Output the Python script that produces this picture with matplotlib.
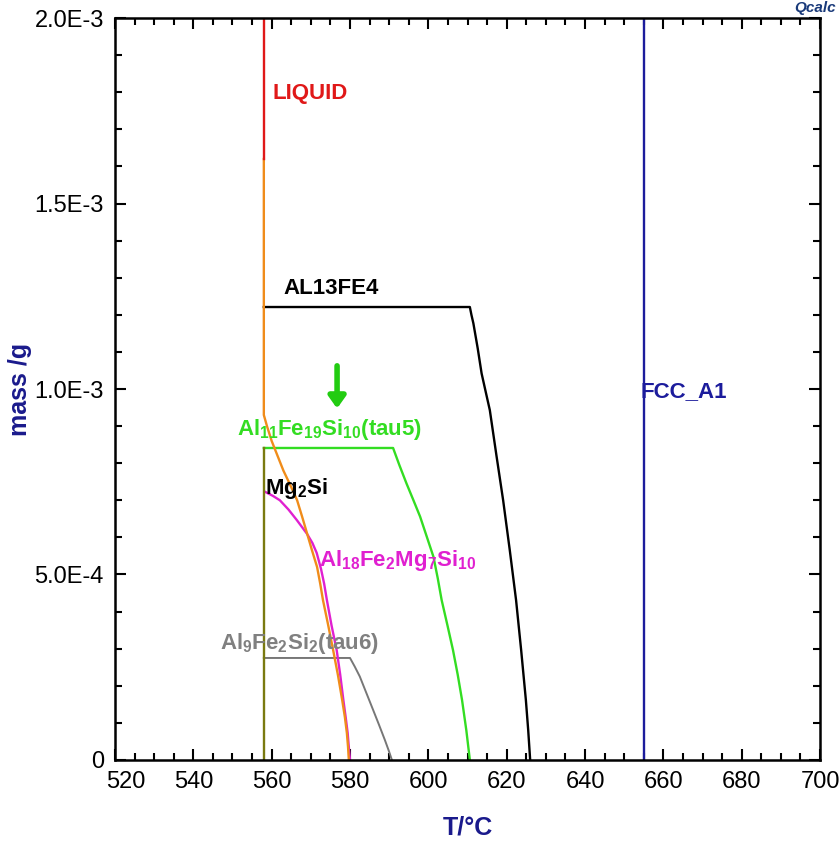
import numpy as np
import matplotlib.pyplot as plt
from matplotlib.ticker import MultipleLocator, FixedLocator, FuncFormatter
from matplotlib.transforms import ScaledTranslation

plt.rcParams['font.family'] = ['Liberation Sans', 'DejaVu Sans']
plt.rcParams['mathtext.fontset'] = 'custom'
plt.rcParams['mathtext.rm'] = 'Liberation Sans'
plt.rcParams['mathtext.bf'] = 'Liberation Sans:bold'

# Eutectic temperature and phase curves (T in degC, mass in g)
t_eut = 558.0

liquid_T = [t_eut, t_eut]
liquid_m = [2.0e-3, 1.62e-3]

orange_T = [558.0, 558.0, 558.8, 560.0, 561.5, 563.0, 564.8, 566.5, 567.8, 569.0, 570.3, 571.6,
            572.4, 573.1, 574.4, 575.7, 576.9, 578.0, 578.7, 579.2, 579.5, 579.7]
orange_m = [1.62e-3, 9.3e-4, 9.0e-4, 8.6e-4, 8.2e-4, 7.8e-4, 7.4e-4, 7.0e-4, 6.55e-4, 6.12e-4, 5.65e-4, 5.2e-4,
            4.75e-4, 4.31e-4, 3.65e-4, 2.96e-4, 2.3e-4, 1.62e-4, 1.15e-4, 7.3e-5, 3.5e-5, 0.0]

olive_T = [t_eut, t_eut]
olive_m = [0.0, 8.41e-4]

tau5_T = [558.0, 591.0, 592.6, 594.4, 596.2, 597.9, 599.6, 601.3, 602.4, 603.4, 604.9, 606.3,
          607.5, 608.6, 609.7, 610.6]
tau5_m = [8.41e-4, 8.41e-4, 7.95e-4, 7.46e-4, 7.0e-4, 6.56e-4, 6.02e-4, 5.48e-4, 4.9e-4, 4.31e-4, 3.62e-4, 2.96e-4,
          2.3e-4, 1.62e-4, 8.0e-5, 0.0]

al13fe4_T = [558.0, 610.6, 611.0, 611.5, 612.6, 613.6, 614.7, 615.7, 617.4, 619.1, 620.8, 622.4,
             623.7, 624.9, 625.5, 626.0]
al13fe4_m = [1.221e-3, 1.221e-3, 1.2e-3, 1.177e-3, 1.11e-3, 1.042e-3, 9.9e-4, 9.43e-4, 8.2e-4, 7.0e-4, 5.65e-4, 4.31e-4,
             2.96e-4, 1.62e-4, 8.0e-5, 0.0]

mg_T = [558.3, 560.3, 562.1, 564.3, 566.4, 569.0, 570.4, 571.5, 572.6, 573.4, 574.1, 575.3,
        576.6, 577.5, 578.3, 578.9, 579.4, 579.7, 580.0]
mg_m = [7.23e-4, 7.12e-4, 7.0e-4, 6.75e-4, 6.47e-4, 6.1e-4, 5.85e-4, 5.58e-4, 5.15e-4, 4.75e-4, 4.31e-4, 3.62e-4,
        2.96e-4, 2.3e-4, 1.62e-4, 1.15e-4, 7.3e-5, 3.5e-5, 0.0]

tau6_T = [558.0, 580.0, 581.2, 582.5, 584.2, 585.9, 587.4, 588.9, 589.9, 590.7]
tau6_m = [2.75e-4, 2.75e-4, 2.52e-4, 2.25e-4, 1.8e-4, 1.35e-4, 9.5e-5, 5.4e-5, 2.5e-5, 0.0]

fcc_T = [655.0, 655.0]
fcc_m = [0.0, 2.0e-3]

navy = '#1a1a8c'

fig = plt.figure(figsize=(8.4, 8.42), dpi=100)
ax = fig.add_axes([0.1369, 0.0974, 0.8393, 0.8812])

ax.plot(fcc_T, fcc_m, color='#1c1c9c', lw=1.7)
ax.plot(al13fe4_T, al13fe4_m, color='black', lw=1.7)
ax.plot(tau5_T, tau5_m, color='#33dd22', lw=1.7)
ax.plot(tau6_T, tau6_m, color='#777777', lw=1.4)
ax.plot(mg_T, mg_m, color='#e020d0', lw=1.7)
ax.plot(orange_T, orange_m, color='#f08c1a', lw=1.7)
ax.plot(olive_T, olive_m, color='#7a7a10', lw=1.7)
ax.plot(liquid_T, liquid_m, color='#e01818', lw=1.7)

ax.set_xlim(520, 700)
ax.set_ylim(0, 2.0e-3)

ax.xaxis.set_major_locator(MultipleLocator(20))
ax.xaxis.set_minor_locator(MultipleLocator(5))
ax.yaxis.set_major_locator(FixedLocator([0, 5e-4, 1e-3, 1.5e-3, 2e-3]))
ax.yaxis.set_minor_locator(MultipleLocator(1e-4))
ytick_labels = {0: '0', 5e-4: '5.0E-4', 1e-3: '1.0E-3', 1.5e-3: '1.5E-3', 2e-3: '2.0E-3'}
ax.yaxis.set_major_formatter(FuncFormatter(
    lambda v, p: min(ytick_labels.items(), key=lambda kv: abs(kv[0] - v))[1]))

ax.tick_params(which='both', direction='in', top=True, right=True, width=1.5, labelsize=17)
ax.tick_params(which='major', length=8, pad=8)
ax.tick_params(which='minor', length=5)
for s in ax.spines.values():
    s.set_linewidth(1.8)
# first x label is nudged right, off the y label "0"
fig.canvas.draw()
for lbl in ax.get_xticklabels():
    if lbl.get_text() == '520':
        lbl.set_transform(lbl.get_transform() + ScaledTranslation(0.11, 0, fig.dpi_scale_trans))

ax.set_xlabel('T/°C', color=navy, fontsize=18, fontweight='bold', labelpad=16)
ax.set_ylabel('mass /g', color=navy, fontsize=18, fontweight='bold', labelpad=2)

fs = 16
ax.text(560.3, 1.797e-3, 'LIQUID', color='#e01818', fontsize=fs, fontweight='bold', va='center')
ax.text(562.9, 1.272e-3, 'AL13FE4', color='black', fontsize=fs, fontweight='bold', va='center')
ax.text(654.2, 9.92e-4, 'FCC_A1', color='#1c1c9c', fontsize=fs, fontweight='bold', va='center')
ax.text(551.1, 8.9e-4, r'Al$_{\mathbf{11}}$Fe$_{\mathbf{19}}$Si$_{\mathbf{10}}$(tau5)', color='#33dd22',
        fontsize=fs, fontweight='bold', va='center')
ax.text(558.3, 7.33e-4, r'Mg$_{\mathbf{2}}$Si', color='black', fontsize=fs, fontweight='bold', va='center')
ax.text(572.1, 5.39e-4, r'Al$_{\mathbf{18}}$Fe$_{\mathbf{2}}$Mg$_{\mathbf{7}}$Si$_{\mathbf{10}}$', color='#e020d0',
        fontsize=fs, fontweight='bold', va='center')
ax.text(546.8, 3.15e-4, r'Al$_{\mathbf{9}}$Fe$_{\mathbf{2}}$Si$_{\mathbf{2}}$(tau6)', color='#808080',
        fontsize=fs, fontweight='bold', va='center')

ax.annotate('', xy=(576.7, 9.4e-4), xytext=(576.7, 1.07e-3),
            arrowprops=dict(arrowstyle='-|>,head_width=0.5,head_length=0.7', color='#22cc11', lw=4))

fig.text(0.995, 0.999, 'Qcalc', color='#1a3a7a', fontsize=11, fontweight='bold',
         fontstyle='italic', ha='right', va='top')

fig.savefig('out.png', dpi=100)
